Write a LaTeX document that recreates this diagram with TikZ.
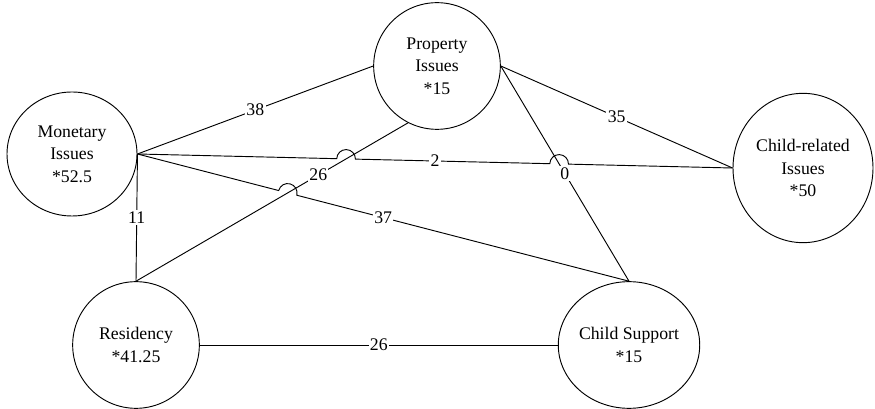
\documentclass[tikz,border=0pt]{standalone}
\usepackage{fontspec}
\setmainfont{Liberation Serif}
\usetikzlibrary{shapes.geometric,calc,intersections}
\begin{document}
\begin{tikzpicture}[x=0.75pt,y=-0.75pt,
  issue/.style={draw,ellipse,inner sep=0pt,align=center,font=\fontsize{13.3}{17}\selectfont,line width=0.7pt},
  lbl/.style={fill=white,inner sep=1pt,font=\fontsize{13.3}{17}\selectfont},
  conn/.style={line width=0.7pt}]
\useasboundingbox (0,0) rectangle (875,409);
\def\hr{7pt}
\node[issue,minimum width=97.5pt,minimum height=93pt] (M) at (72,154) {Monetary\\Issues\\*52.5};
\node[issue,minimum width=95pt,minimum height=95pt] (P) at (437,66) {Property\\Issues\\*15};
\node[issue,minimum width=105pt,minimum height=112pt] (CR) at (803,168) {Child-related\\Issues\\*50};
\node[issue,minimum width=95pt,minimum height=95pt] (R) at (136,345) {Residency\\*41.25};
\node[issue,minimum width=96pt,minimum height=95pt] (CS) at (629,345) {Child Support\\*15};
% straight connectors
\draw[conn,name path=l5] (P.243) -- (R.north);
\draw[conn,name path=l7] (P.east) -- (CS.north);
\path[name path=l2] (M.east) -- (CR.west);
\path[name path=l3] (M.east) -- (CS.north);
\path[name intersections={of=l2 and l5,by=h1}];
\path[name intersections={of=l2 and l7,by=h2}];
\path[name intersections={of=l3 and l5,by=h3}];
% connectors with hops
\draw[conn] let \p1=($(CR.west)-(M.east)$), \n1={atan2(\y1,\x1)} in
  (M.east) -- ($(h1)!\hr!(M.east)$) arc[start angle=\n1+180,end angle=\n1,radius=\hr]
  -- ($(h2)!\hr!(M.east)$) arc[start angle=\n1+180,end angle=\n1,radius=\hr] -- (CR.west);
\draw[conn] let \p1=($(CS.north)-(M.east)$), \n1={atan2(\y1,\x1)} in
  (M.east) -- ($(h3)!\hr!(M.east)$) arc[start angle=\n1+180,end angle=\n1,radius=\hr] -- (CS.north);
\draw[conn] (M.east) -- (P.west);
\draw[conn] (M.east) -- (R.north);
\draw[conn] (P.east) -- (CR.west);
\draw[conn] (R.east) -- (CS.west);
% labels
\node[lbl] (t38) at ($(M.east)!0.5!(P.west)$) {38};
\node[lbl] (t2) at ($(M.east)!0.5!(CR.west)$) {2};
\node[lbl] (t37) at ($(M.east)!0.5!(CS.north)$) {37};
\node[lbl] (t11) at ($(M.east)!0.5!(R.north)$) {11};
\node[lbl] (t26a) at ($(P.243)!0.33!(R.north)$) {26};
\node[lbl] (t35) at ($(P.east)!0.5!(CR.west)$) {35};
\node[lbl] (t0) at ($(P.east)!0.5!(CS.north)$) {0};
\node[lbl] (t26b) at ($(R.east)!0.5!(CS.west)$) {26};
\end{tikzpicture}
\end{document}
